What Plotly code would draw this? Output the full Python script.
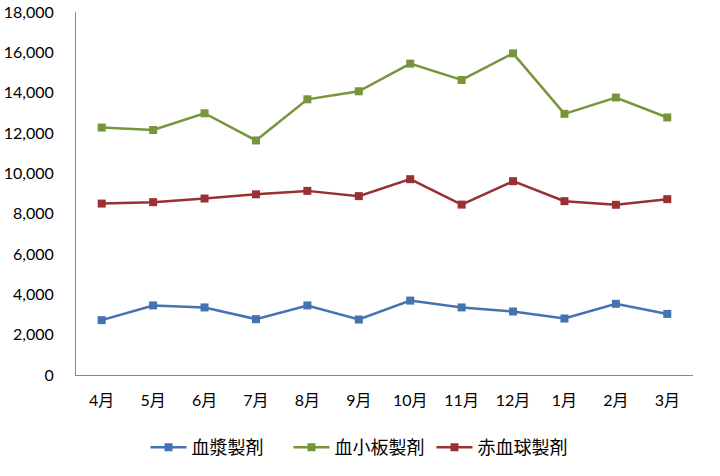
import plotly.graph_objects as go

months = ["4月", "5月", "6月", "7月", "8月", "9月", "10月", "11月", "12月", "1月", "2月", "3月"]
plasma = [2720, 3450, 3350, 2770, 3450, 2750, 3690, 3350, 3150, 2800, 3530, 3030]
platelet = [12270, 12150, 12980, 11630, 13670, 14070, 15440, 14630, 15950, 12950, 13760, 12770]
redcell = [8500, 8570, 8750, 8960, 9130, 8870, 9710, 8450, 9610, 8620, 8440, 8720]

names = ["血漿製剤", "血小板製剤", "赤血球製剤"]
colors = ["#4472B2", "#77953B", "#993133"]

fig = go.Figure()
for name, vals, c in zip(names, [plasma, platelet, redcell], colors):
    fig.add_trace(go.Scatter(
        x=months, y=vals, name=name, mode="lines+markers",
        line=dict(color=c, width=2.5),
        marker=dict(symbol="square", size=8, color=c),
    ))

fig.update_layout(
    width=720, height=476,
    margin=dict(l=76, r=27, t=12, b=101, autoexpand=False),
    paper_bgcolor="white", plot_bgcolor="white",
    font=dict(family="Lato, 'Noto Sans CJK JP', sans-serif", size=16, color="#000000"),
    showlegend=True,
    legend=dict(orientation="h", xref="container", x=0.5, xanchor="center",
                yref="container", y=0.06, yanchor="middle",
                font=dict(family="'Noto Sans CJK JP', sans-serif", size=18),
                itemwidth=36, entrywidth=92, tracegroupgap=0),
    xaxis=dict(range=[-0.5, 11.5], showline=True, linecolor="#888888", linewidth=1,
               showgrid=False, ticks="", automargin=False,
               tickfont=dict(family="Lato, 'Noto Sans CJK JP', sans-serif", size=16),
               ticklabelstandoff=11),
    yaxis=dict(range=[0, 18000], dtick=2000, tickformat=",d", showline=True,
               linecolor="#888888", linewidth=1, showgrid=False, zeroline=False,
               ticks="", automargin=False, ticklabelstandoff=18),
)

fig.write_html("out.html")
